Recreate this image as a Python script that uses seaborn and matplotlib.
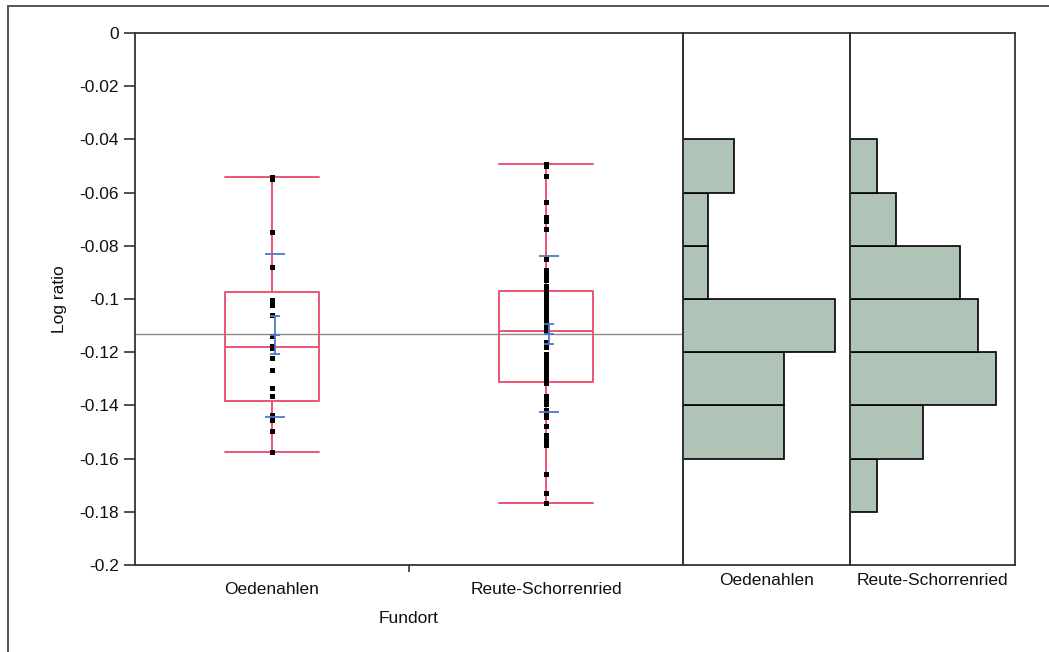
import numpy as np
import pandas as pd
import matplotlib
matplotlib.use("Agg")
import matplotlib.pyplot as plt
import seaborn as sns
from matplotlib.lines import Line2D

# ---------------- data ----------------
categories = ["Oedenahlen", "Reute-Schorrenried"]

oedenahlen = [-0.0540, -0.0550, -0.0747, -0.0881, -0.1004, -0.1024, -0.1062,
              -0.1140, -0.1176, -0.1184, -0.1221, -0.1267, -0.1333, -0.1366,
              -0.1437, -0.1455, -0.1496, -0.1575]

reute = [-0.0492, -0.0500, -0.0538,
         -0.0637, -0.0690, -0.0700, -0.0705, -0.0738,
         -0.0850, -0.0890, -0.0905, -0.0926, -0.0930, -0.0950, -0.0967,
         -0.0973, -0.0980, -0.0985, -0.0990, -0.0995,
         -0.1005, -0.1010, -0.1020, -0.1030, -0.1040, -0.1050, -0.1065,
         -0.1075, -0.1090, -0.1100, -0.1120, -0.1160, -0.1170, -0.1180,
         -0.1205, -0.1210, -0.1220, -0.1230, -0.1240, -0.1250, -0.1260,
         -0.1275, -0.1285, -0.1295, -0.1300, -0.1310, -0.1315, -0.1365,
         -0.1380, -0.1395,
         -0.1417, -0.1430, -0.1444, -0.1477, -0.1511, -0.1530, -0.1540,
         -0.1550,
         -0.1658, -0.1729, -0.1766]

bin_edges = [-0.20, -0.18, -0.16, -0.14, -0.12, -0.10, -0.08, -0.06, -0.04,
             -0.02, 0.0]
yticks = [0, -0.02, -0.04, -0.06, -0.08, -0.1, -0.12, -0.14, -0.16, -0.18, -0.2]
ytick_labels = ["0", "-0.02", "-0.04", "-0.06", "-0.08", "-0.1", "-0.12",
                "-0.14", "-0.16", "-0.18", "-0.2"]
y_label = "Log ratio"
x_label = "Fundort"

groups = [oedenahlen, reute]
df = pd.DataFrame({
    "Fundort": [categories[0]] * len(oedenahlen) + [categories[1]] * len(reute),
    "Log ratio": oedenahlen + reute,
})

# ---------------- style ----------------
sns.set_theme(style="white")
plt.rcParams["font.family"] = ["Liberation Sans", "DejaVu Sans"]
FS = 12.5
RED = "#EC5573"
BLUE = "#5078C8"
GREEN = "#AFC3B7"
DARK = "#333333"

W, H = 1049, 652
fig = plt.figure(figsize=(W / 100, H / 100), dpi=100)
fig.patch.set_facecolor("white")

x0, x1, x2, x3 = 135 / W, 683 / W, 850 / W, 1015 / W
yb, yt = 1 - 565 / H, 1 - 33 / H
ax = fig.add_axes([x0, yb, x1 - x0, yt - yb])
axh1 = fig.add_axes([x1, yb, x2 - x1, yt - yb], sharey=ax)
axh2 = fig.add_axes([x2, yb, x3 - x2, yt - yb], sharey=ax)


def jmp_quantile(values, p):
    s = sorted(values)
    n = len(s)
    r = (n + 1) * p
    k = int(np.floor(r))
    f = r - k
    if k < 1:
        return s[0]
    if k >= n:
        return s[-1]
    return s[k - 1] + f * (s[k] - s[k - 1])


# grand mean line
grand_mean = float(np.mean(oedenahlen + reute))
ax.axhline(grand_mean, color="#8a8a8a", lw=1.0, zorder=1)

# box plots (JMP-style quantiles, whiskers to min / max)
stats = []
for cat, vals in zip(categories, groups):
    stats.append(dict(label=cat, med=jmp_quantile(vals, 0.5),
                      q1=jmp_quantile(vals, 0.25), q3=jmp_quantile(vals, 0.75),
                      whislo=min(vals), whishi=max(vals), fliers=[]))
bw = 0.34
lp = dict(color=RED, lw=1.4)
ax.bxp(stats, positions=[0, 1], widths=bw, capwidths=bw, showfliers=False,
       boxprops=lp, whiskerprops=lp, capprops=lp, medianprops=lp,
       manage_ticks=False, zorder=2)

# points
sns.stripplot(data=df, x="Fundort", y="Log ratio", order=categories,
              jitter=False, color="black", marker="s", size=3.6, linewidth=0,
              ax=ax, zorder=3)

# mean +- SD and mean +- SE marks
off = 0.012
for i, vals in enumerate(groups):
    v = np.asarray(vals)
    m = v.mean()
    sd = v.std(ddof=1)
    se = sd / np.sqrt(len(v))
    c = i + off
    ax.hlines([m - sd, m + sd], c - 0.037, c + 0.037, color=BLUE, lw=1.3, zorder=4)
    ax.vlines(c, m - se, m + se, color=BLUE, lw=1.3, zorder=4)
    ax.hlines([m - se, m, m + se], c - 0.018, c + 0.018, color=BLUE, lw=1.3, zorder=4)

ax.set_xlim(-0.5, 1.5)
ax.set_ylim(-0.2, 0)
ax.set_yticks(yticks)
ax.set_yticklabels(ytick_labels, fontsize=FS, color="#111111")
ax.set_xticks([0, 1])
ax.set_xticklabels(categories, fontsize=FS, color="#111111")
ax.set_xticks([0.5], minor=True)
ax.tick_params(axis="y", left=True, length=8, width=1.2, color=DARK, pad=3.5,
               direction="out")
ax.tick_params(axis="x", which="major", bottom=True, length=0, pad=12.5)
ax.tick_params(axis="x", which="minor", bottom=True, length=5, width=1.2,
               color=DARK, direction="out")
ax.set_ylabel(y_label, fontsize=FS, color="#111111", labelpad=9)
ax.set_xlabel(x_label, fontsize=FS, color="#111111", labelpad=10)
for sp in ax.spines.values():
    sp.set_visible(True)
    sp.set_color(DARK)
    sp.set_linewidth(1.3)

# histograms
for axh, vals, cat, xmax in zip([axh1, axh2], groups, categories, [6.6, 18.05]):
    sns.histplot(y=vals, bins=bin_edges, color=GREEN, edgecolor="black",
                 linewidth=1.2, alpha=1, ax=axh)
    axh.set_xlim(0, xmax)
    axh.set_ylabel("")
    axh.set_xlabel(cat, fontsize=FS, color="#111111", labelpad=6)
    axh.tick_params(left=False, labelleft=False, bottom=False,
                    labelbottom=False)
    for sp in axh.spines.values():
        sp.set_visible(True)
        sp.set_color(DARK)
        sp.set_linewidth(1.3)
ax.set_ylim(-0.2, 0)

# outer frame lines
fy = 1 - 6 / H
fx = 8 / W
fig.add_artist(Line2D([fx, 1], [fy, fy], transform=fig.transFigure,
                      color="#555555", lw=1.4))
fig.add_artist(Line2D([fx, fx], [0, fy], transform=fig.transFigure,
                      color="#555555", lw=1.4))

fig.savefig("out.png", dpi=100, facecolor="white")
